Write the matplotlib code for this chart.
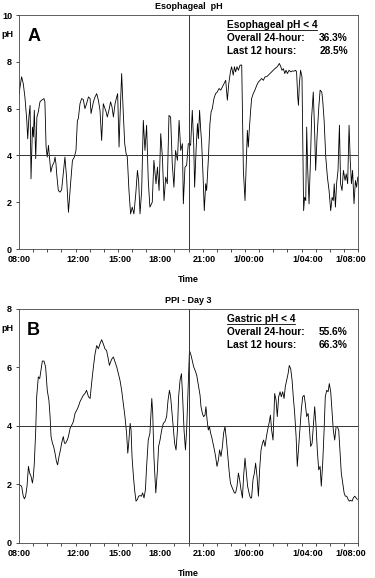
import numpy as np
import matplotlib
matplotlib.use("Agg")
import matplotlib.pyplot as plt

plt.rcParams['font.family'] = ['Liberation Sans', 'DejaVu Sans']
plt.rcParams['font.weight'] = 'bold'

# minutes after 08:00, pH
eso_min = [0, 11, 18, 25, 33, 37, 42, 47, 51, 57, 61, 65, 71, 76, 82, 89, 96, 106, 110, 115,
           120, 125, 135, 142, 149, 153, 157, 160, 167, 174, 181, 188, 195, 202, 210, 219, 227, 235, 242, 248,
           252, 259, 266, 273, 280, 287, 295, 302, 306, 316, 323, 330, 337, 344, 351, 358,
           370, 375, 382, 389, 395, 401, 408, 415, 419, 425, 429, 436, 443, 449, 455, 460, 467, 474, 481, 488,
           496, 503, 508, 514, 521, 528, 535, 542, 549, 556, 566, 573, 582, 588, 595, 602, 609, 616, 623, 630,
           637, 644, 651, 658, 665, 673, 680, 687, 694, 698, 705, 712, 719,
           724, 729, 736, 742, 746, 752, 758, 762, 767, 772, 776, 782, 787, 793, 797, 804, 811, 816, 821, 828,
           835, 842, 850, 857, 864, 871, 878, 885, 891, 898, 903, 910, 915, 920, 926, 932, 939, 946, 949, 953,
           960, 966, 970, 974, 978, 984, 988, 995, 1002, 1010, 1017, 1024, 1031, 1038, 1045, 1052, 1059, 1066, 1073, 1080,
           1087, 1097, 1106, 1112, 1117, 1123, 1129, 1134, 1140, 1147, 1154, 1161, 1168, 1175, 1179, 1184, 1187, 1191, 1196, 1202,
           1205, 1209, 1213, 1218, 1222, 1226, 1232, 1238, 1243, 1250, 1256, 1260, 1266, 1273, 1279, 1286, 1290, 1296, 1303, 1310,
           1317, 1324, 1330, 1335, 1339, 1344, 1349, 1355, 1361, 1366, 1372, 1378, 1385, 1390, 1396, 1402, 1407, 1412, 1417, 1423,
           1429, 1434, 1439]
eso_ph = [6.64, 7.36, 7.07, 6.5, 5.5, 4.71, 5.64, 6.14, 3.0, 5.21, 4.79, 5.93, 3.86, 5.64, 5.86, 6.29, 6.36, 6.43, 6.29, 4.36,
          3.93, 4.43, 3.29, 3.57, 3.71, 3.93, 3.64, 3.21, 2.5, 2.43, 2.53, 3.21, 3.93, 3.07, 1.57, 2.79, 3.79, 3.93, 4.21, 5.5,
          5.57, 6.21, 6.43, 6.39, 6.0, 6.21, 6.5, 6.43, 5.79, 6.29, 6.5, 6.64, 6.36, 5.93, 4.64, 6.21,
          5.86, 5.64, 5.93, 6.29, 6.07, 5.64, 6.21, 6.5, 6.64, 4.36, 5.64, 7.5, 5.79, 4.5, 4.07, 3.93, 2.5, 1.5, 1.79, 1.5,
          2.36, 3.36, 2.93, 1.5, 2.5, 5.5, 4.21, 5.29, 2.93, 1.79, 2.0, 3.79, 2.79, 3.5, 2.5, 4.93, 3.93, 2.07, 3.07, 2.79,
          5.71, 5.64, 3.64, 2.64, 4.21, 3.79, 5.5, 4.21, 4.5, 1.93, 3.5, 3.57, 4.5,
          4.5, 4.43, 5.93, 4.5, 2.64, 4.21, 5.36, 4.71, 5.93, 5.07, 4.5, 3.07, 1.64, 2.79, 2.5, 3.79, 5.36, 5.86, 6.0, 6.43,
          6.64, 6.71, 6.86, 6.79, 6.93, 7.07, 7.21, 6.36, 7.07, 7.57, 7.79, 7.43, 7.79, 7.57, 7.79, 7.64, 7.86, 7.86, 5.93, 3.36,
          2.07, 3.79, 5.07, 4.36, 5.07, 5.93, 6.43, 6.64, 6.79, 7.0, 7.14, 7.21, 7.29, 7.21, 7.36, 7.36, 7.43, 7.5, 7.57, 7.64,
          7.71, 7.79, 7.93, 7.79, 7.64, 7.71, 7.5, 7.64, 7.5, 7.64, 7.57, 7.61, 7.6, 7.64, 7.57, 6.5, 6.14, 7.07, 7.64, 7.36,
          4.93, 1.64, 2.21, 2.07, 5.21, 3.5, 1.93, 3.79, 5.64, 6.71, 4.93, 3.36, 4.79, 6.0, 6.79, 6.71, 6.36, 5.5, 3.93, 3.07,
          2.5, 1.64, 2.21, 2.07, 2.79, 1.79, 2.79, 3.36, 5.29, 2.79, 2.5, 3.36, 2.93, 3.21, 2.79, 5.29, 3.79, 2.79, 3.36, 1.93,
          2.93, 2.64, 3.07]

gas_min = [0, 11, 18, 23, 28, 34, 40, 45, 51, 57, 61, 65, 71, 75, 82, 88, 93, 99, 106, 113,
           120, 127, 132, 136, 142, 147, 153, 159, 164, 170, 176, 181, 188, 193, 198, 205, 210, 217, 224, 231,
           238, 245, 252, 259, 266, 273, 280, 287, 295, 302, 309, 316, 323, 330, 337, 344, 351, 358,
           365, 372, 379, 384, 389, 395, 401, 408, 415, 422, 429, 436, 443, 450, 457, 462, 466, 472, 476, 480,
           486, 491, 497, 503, 508, 514, 520, 525, 531, 537, 542, 549, 556, 564, 568, 573, 581, 588, 593, 599,
           606, 613, 620, 627, 633, 639, 644, 650, 656, 661, 667, 673, 678, 684, 690, 695, 701, 707, 712, 718, 724,
           731, 736, 742, 748, 755, 762, 769, 773, 779, 784, 790, 794, 799, 804, 809, 814, 818, 824, 830, 835,
           841, 847, 852, 858, 864, 869, 875, 881, 886, 892, 898, 903, 909, 915, 920, 926, 932, 937, 943, 949,
           954, 960, 966, 971, 977, 983, 988, 994, 1000, 1005, 1011, 1017, 1022, 1028, 1034, 1039, 1045, 1051, 1056, 1062,
           1068, 1073, 1079,
           1086, 1092, 1097, 1103, 1109, 1114, 1120, 1126, 1131, 1137, 1143, 1148, 1154, 1160, 1165, 1171, 1177, 1182, 1188, 1194,
           1199, 1205, 1211, 1216, 1222, 1228, 1233, 1239, 1245, 1250, 1256, 1262, 1267, 1273, 1279, 1284, 1290, 1296, 1301, 1307,
           1313, 1318, 1324, 1330, 1335, 1341, 1347, 1352, 1358, 1364, 1369, 1375, 1381, 1386, 1392, 1398, 1403, 1409, 1415, 1420,
           1426, 1432, 1437]
gas_ph = [2.0, 1.94, 1.6, 1.51, 1.6, 1.94, 2.62, 2.39, 2.28, 2.05, 2.28, 2.73, 3.86, 5.0, 5.68, 5.62, 5.9, 6.22, 6.22, 6.02,
          5.22, 4.88, 4.32, 3.64, 3.41, 3.3, 3.07, 2.79, 2.67, 2.96, 3.18, 3.41, 3.64, 3.41, 3.41, 3.52, 3.64, 3.92, 4.03, 4.15,
          4.43, 4.54, 4.66, 4.83, 4.94, 5.05, 5.11, 5.22, 5.0, 4.94, 5.51, 6.02, 6.47, 6.75, 6.64, 6.81, 6.95, 6.81,
          6.64, 6.58, 6.3, 6.07, 6.19, 6.3, 6.36, 6.19, 6.02, 5.79, 5.56, 5.22, 4.77, 4.32, 3.75, 3.07, 3.41, 4.09, 3.86, 2.96,
          2.28, 1.82, 1.43, 1.49, 1.6, 1.62, 1.6, 1.71, 1.54, 1.82, 2.62, 3.52, 3.75, 4.94, 4.43, 2.96, 1.71, 2.5, 3.3, 3.52,
          3.86, 4.09, 4.15, 4.32, 4.88, 5.22, 5.0, 4.43, 3.86, 3.41, 3.18, 3.86, 5.0, 5.56, 5.79, 5.0, 3.86, 3.18, 3.86, 5.22, 6.58,
          6.41, 6.24, 6.02, 5.9, 5.73, 5.39, 5.05, 4.66, 4.43, 4.32, 4.37, 4.66, 4.2, 3.86, 3.98, 3.75, 3.64, 3.41, 3.18, 2.96,
          2.62, 2.84, 3.18, 2.96, 3.3, 3.75, 3.98, 3.52, 3.07, 2.5, 2.05, 1.94, 1.82, 1.71, 1.71, 1.94, 2.39, 2.17, 1.82, 1.54,
          2.28, 2.9, 2.39, 1.94, 1.71, 1.54, 1.54, 2.17, 2.39, 2.73, 2.28, 1.6, 2.5, 3.18, 3.41, 3.52, 3.3, 3.64, 3.86, 4.09,
          4.37, 3.86, 3.52,
          5.11, 4.88, 4.32, 5.0, 5.17, 5.0, 5.17, 4.94, 5.34, 5.56, 5.79, 6.07, 5.96, 5.56, 5.0, 4.43, 3.64, 2.62, 3.3, 3.98,
          4.54, 5.0, 5.05, 4.77, 4.32, 4.43, 3.98, 3.3, 3.41, 3.98, 4.66, 3.98, 3.18, 2.5, 2.62, 1.94, 2.73, 3.86, 5.0, 5.22,
          5.17, 5.45, 5.17, 4.43, 3.86, 3.52, 3.98, 3.98, 3.86, 3.07, 2.39, 2.05, 1.71, 1.6, 1.6, 1.49, 1.43, 1.46, 1.43, 1.54,
          1.6, 1.54, 1.49]

# x labels sit where the original software put them (hours after 08:00)
tick_hours = [0, 4.14, 7.15, 10.0, 13.13, 16.25, 20.46, 23.5]
tick_labels = ['08:00', '12:00', '15:00', '18:00', '21:00', '1/00:00', '1/04:00', '1/08:00']
hour_marks = list(range(25))
cutoff_ph = 4
last12_hour = 12

panels = [
    dict(title='Esophageal  pH', letter='A', minutes=eso_min, ph=eso_ph, ymax=10,
         head='Esophageal pH < 4', overall='36.3%', last12='28.5%'),
    dict(title='PPI - Day 3', letter='B', minutes=gas_min, ph=gas_ph, ymax=8,
         head='Gastric pH < 4', overall='55.6%', last12='66.3%'),
]

fig = plt.figure(figsize=(3.75, 5.78), dpi=100)
axes = [fig.add_axes([0.0507, 0.5692, 0.904, 0.4048]),
        fig.add_axes([0.0507, 0.0606, 0.904, 0.4048])]

heads = []
for ax, p in zip(axes, panels):
    hours = np.array(p['minutes']) / 60.0
    ax.plot(hours, p['ph'], color='black', lw=0.6)
    ax.axhline(cutoff_ph, color='#333333', lw=0.7)
    ax.axvline(last12_hour, color='#333333', lw=0.7)
    ax.set_xlim(0, 24)
    ax.set_ylim(0, p['ymax'])
    ax.set_yticks(np.arange(0, p['ymax'] + 1, 2))
    ax.set_xticks(tick_hours)
    ax.set_xticklabels(tick_labels)
    ax.set_xticks(hour_marks, minor=True)
    ax.tick_params(axis='x', which='major', length=0, labelsize=6.5, pad=4)
    ax.tick_params(axis='x', which='minor', length=2, width=0.5, direction='out')
    ax.tick_params(axis='y', length=2, width=0.5, labelsize=6.5, pad=3)
    for s in ax.spines.values():
        s.set_linewidth(0.6)
        s.set_color('#444444')
    ax.set_xlabel('Time', fontsize=6.5, fontweight='bold', labelpad=8.5)
    ax.set_title(p['title'], fontsize=6.5, fontweight='bold', pad=4)

    # panel letter + pH unit label
    ax.text(0.024, 0.945, p['letter'], transform=ax.transAxes, fontsize=13,
            fontweight='bold', va='top', ha='left')
    ax.text(-0.053, 0.915, 'pH', transform=ax.transAxes, fontsize=6.5,
            fontweight='bold', va='center', ha='left')

    # summary text
    h = ax.text(0.613, 0.957, p['head'], transform=ax.transAxes, fontsize=7.3,
                fontweight='bold', va='center', ha='left')
    heads.append((ax, h))
    ax.text(0.613, 0.9, 'Overall 24-hour:', transform=ax.transAxes, fontsize=7.3,
            fontweight='bold', va='center', ha='left')
    ax.text(0.97, 0.9, p['overall'], transform=ax.transAxes, fontsize=7.3,
            fontweight='bold', va='center', ha='right')
    ax.text(0.613, 0.848, 'Last 12 hours:', transform=ax.transAxes, fontsize=7.3,
            fontweight='bold', va='center', ha='left')
    ax.text(0.97, 0.848, p['last12'], transform=ax.transAxes, fontsize=7.3,
            fontweight='bold', va='center', ha='right')

# underline each header across its full rendered width
fig.canvas.draw()
renderer = fig.canvas.get_renderer()
for ax, h in heads:
    bb = h.get_window_extent(renderer).transformed(ax.transAxes.inverted())
    ax.plot([bb.x0, bb.x1], [0.937, 0.937], transform=ax.transAxes,
            color='black', lw=0.6)

fig.savefig('out.png', dpi=100)
